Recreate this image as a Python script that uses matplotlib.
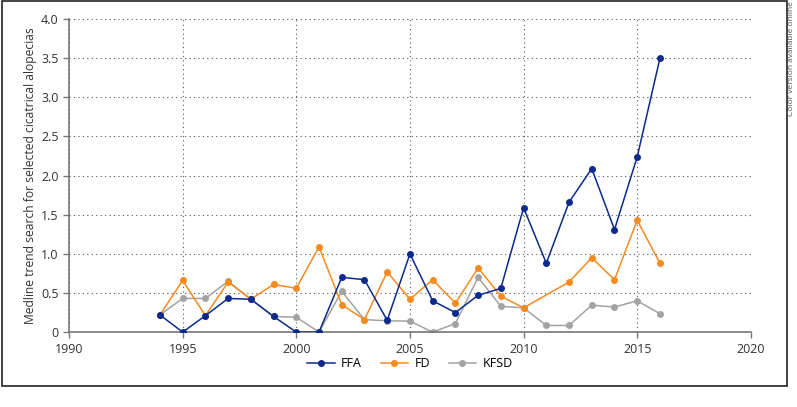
import matplotlib
matplotlib.use("Agg")
import matplotlib.pyplot as plt
from matplotlib.patches import Rectangle
from matplotlib.ticker import FuncFormatter

plt.rcParams['font.family'] = ['Open Sans', 'DejaVu Sans']

years = list(range(1994, 2017))
ffa = [0.22, 0.0, 0.21, 0.43, 0.42, 0.20, 0.0, 0.0, 0.70, 0.67, 0.15, 1.0,
       0.40, 0.25, 0.47, 0.56, 1.59, 0.88, 1.66, 2.09, 1.31, 2.24, 3.5]
# FD has no value for 2011
fd_years = [y for y in years if y != 2011]
fd = [0.22, 0.66, 0.21, 0.64, 0.42, 0.61, 0.56, 1.09, 0.35, 0.16, 0.77, 0.42,
      0.67, 0.37, 0.82, 0.46, 0.31, 0.64, 0.95, 0.67, 1.43, 0.88]
kfsd = [0.22, 0.43, 0.43, 0.65, 0.42, 0.20, 0.19, 0.0, 0.52, 0.16, 0.145, 0.14,
        0.0, 0.11, 0.70, 0.33, 0.31, 0.085, 0.085, 0.345, 0.32, 0.40, 0.235]

fig = plt.figure(figsize=(7.97, 4.07), dpi=100)
ax = fig.add_axes([0.0866, 0.184, 0.8555, 0.769])

ax.plot(years, ffa, color='#0b2a8c', marker='o', markersize=4, lw=1.1, label='FFA', zorder=3)
ax.plot(fd_years, fd, color='#f68b1f', marker='o', markersize=4, lw=1.1, label='FD', zorder=2)
ax.plot(years, kfsd, color='#a3a3a3', marker='o', markersize=4, lw=1.1, label='KFSD', zorder=1)

ax.set_xlim(1990, 2020)
ax.set_ylim(0, 4.0)
ax.set_xticks(range(1990, 2021, 5))
ax.set_yticks([0, 0.5, 1.0, 1.5, 2.0, 2.5, 3.0, 3.5, 4.0])
ax.yaxis.set_major_formatter(FuncFormatter(lambda v, p: '0' if v == 0 else f'{v:.1f}'))
ax.grid(True, linestyle=(0, (1, 3)), color='#555555', lw=0.8)
ax.set_axisbelow(True)
for s in ['top', 'right']:
    ax.spines[s].set_visible(False)
for s in ['left', 'bottom']:
    ax.spines[s].set_color('#777777')
    ax.spines[s].set_linewidth(1.2)
ax.tick_params(colors='#777777', labelcolor='#333333', labelsize=9, length=4, width=1)
ax.set_ylabel('Medline trend search for selected cicatrical alopecias', fontsize=8.7, color='#333333', labelpad=3)

ax.legend(loc='upper center', bbox_to_anchor=(0.5, -0.045), ncol=3, frameon=False,
          fontsize=9, handlelength=2.2, columnspacing=1.5, handletextpad=0.5)

fig.patches.append(Rectangle((0.002, 0.052), 0.985, 0.946, transform=fig.transFigure,
                             fill=False, edgecolor='#222222', lw=1.2))
fig.text(0.9925, 0.997, 'Color version available online', rotation=90, ha='center', va='top',
         fontsize=6, color='#555555')

fig.savefig('out.png', dpi=100)
